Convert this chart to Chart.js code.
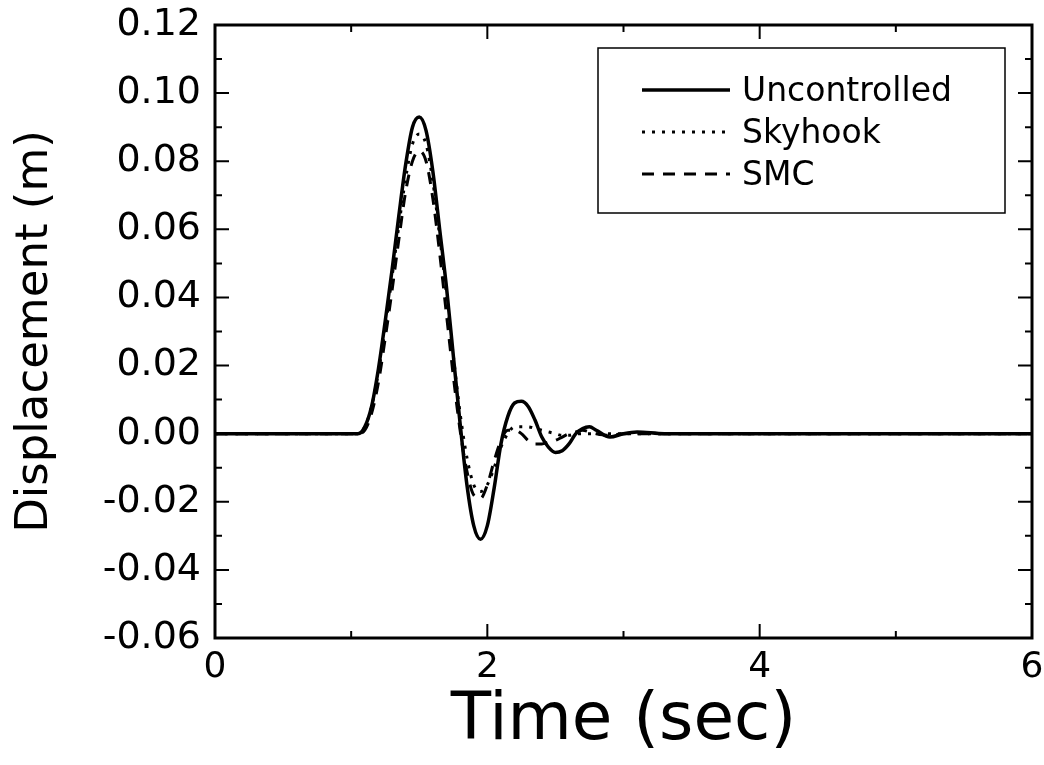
<!DOCTYPE html>
<html>
<head>
<meta charset="utf-8">
<script src="https://cdn.jsdelivr.net/npm/chart.js@4.4.1/dist/chart.umd.min.js"></script>
<style>
  html, body { margin: 0; padding: 0; background: #fff; }
  #wrap { width: 1044px; height: 765px; }
</style>
</head>
<body>
<div id="wrap"><canvas id="chart" width="1044" height="765"></canvas></div>
<script>
// time samples (sec)
const time = [0, 0.5, 1.0, 1.05, 1.1, 1.15, 1.2, 1.25, 1.3, 1.35, 1.4, 1.45, 1.5, 1.55, 1.6, 1.65, 1.7,
  1.75, 1.8, 1.85, 1.9, 1.95, 2.0, 2.05, 2.1, 2.15, 2.2, 2.25, 2.3, 2.35, 2.4, 2.45, 2.5, 2.55, 2.6,
  2.65, 2.7, 2.75, 2.8, 2.9, 3.0, 3.1, 3.3, 3.6, 4.0, 5.0, 6.0];

const uncontrolled = [0, 0, 0, 0, 0.002, 0.008, 0.019, 0.033, 0.048, 0.064, 0.079, 0.090, 0.093, 0.089, 0.077,
  0.060, 0.043, 0.023, 0.003, -0.015, -0.027, -0.031, -0.027, -0.016, -0.003, 0.005, 0.009, 0.0095, 0.008,
  0.004, -0.001, -0.004, -0.0055, -0.005, -0.003, 0.000, 0.0015, 0.002, 0.001, -0.001, 0, 0.0005, 0, 0, 0, 0, 0];

const skyhook = [0, 0, 0, 0, 0.002, 0.008, 0.018, 0.031, 0.046, 0.061, 0.075, 0.085, 0.088, 0.085, 0.074,
  0.058, 0.041, 0.023, 0.006, -0.007, -0.015, -0.017, -0.015, -0.010, -0.004, 0.000, 0.002, 0.002, 0.002,
  0.0015, 0.001, 0.0005, 0, -0.0005, -0.0005, 0, 0, 0, 0, 0, 0, 0, 0, 0, 0, 0, 0];

const smc = [0, 0, 0, 0, 0.001, 0.006, 0.015, 0.028, 0.042, 0.057, 0.071, 0.080, 0.083, 0.080, 0.069,
  0.053, 0.035, 0.017, 0.001, -0.011, -0.018, -0.019, -0.015, -0.008, -0.002, 0.001, 0.001, 0, -0.002,
  -0.003, -0.003, -0.0025, -0.002, -0.001, 0, 0.0005, 0.001, 0.0005, 0, -0.0005, 0, 0, 0, 0, 0, 0, 0];

const seriesNames = ['Uncontrolled', 'Skyhook', 'SMC'];
const xTicks = [0, 2, 4, 6];
const yTicks = [-0.06, -0.04, -0.02, 0.00, 0.02, 0.04, 0.06, 0.08, 0.10, 0.12];

const FONT = 'DejaVu Sans, sans-serif';

function toPoints(ys) {
  return time.map((t, i) => ({ x: t, y: ys[i] }));
}

// inward ticks on all four sides plus the frame
const frameTicks = {
  id: 'frameTicks',
  afterDatasetsDraw(chart) {
    const { ctx, chartArea: a, scales } = chart;
    ctx.save();
    ctx.strokeStyle = '#000';
    ctx.lineWidth = 3;
    ctx.strokeRect(a.left, a.top, a.right - a.left, a.bottom - a.top);
    ctx.lineWidth = 2;
    for (let v = 0; v <= 6; v += 1) {
      const px = scales.x.getPixelForValue(v);
      const len = v % 2 === 0 ? 14 : 7;
      ctx.beginPath();
      ctx.moveTo(px, a.bottom); ctx.lineTo(px, a.bottom - len);
      ctx.moveTo(px, a.top); ctx.lineTo(px, a.top + len);
      ctx.stroke();
    }
    for (let k = -6; k <= 12; k += 1) {
      const py = scales.y.getPixelForValue(k / 100);
      const len = k % 2 === 0 ? 14 : 7;
      ctx.beginPath();
      ctx.moveTo(a.left, py); ctx.lineTo(a.left + len, py);
      ctx.moveTo(a.right, py); ctx.lineTo(a.right - len, py);
      ctx.stroke();
    }
    ctx.restore();
  }
};

// boxed legend in the top right of the plot
const boxLegend = {
  id: 'boxLegend',
  afterDraw(chart) {
    const { ctx } = chart;
    const left = 598, top = 48, w = 407, h = 165;
    ctx.save();
    ctx.strokeStyle = '#000';
    ctx.lineWidth = 1.5;
    ctx.strokeRect(left, top, w, h);
    ctx.font = '33px ' + FONT;
    ctx.textBaseline = 'middle';
    ctx.fillStyle = '#000';
    chart.data.datasets.forEach((ds, i) => {
      const y = 90 + i * 42;
      ctx.beginPath();
      ctx.lineWidth = ds.borderWidth;
      ctx.setLineDash(ds.borderDash || []);
      ctx.moveTo(642, y); ctx.lineTo(730, y);
      ctx.stroke();
      ctx.setLineDash([]);
      ctx.fillText(ds.label, 742, y + 2);
    });
    ctx.restore();
  }
};

new Chart(document.getElementById('chart'), {
  type: 'line',
  data: {
    datasets: [
      { label: seriesNames[0], data: toPoints(uncontrolled), borderColor: '#000', borderWidth: 3.5 },
      { label: seriesNames[1], data: toPoints(skyhook), borderColor: '#000', borderWidth: 3, borderDash: [3, 7] },
      { label: seriesNames[2], data: toPoints(smc), borderColor: '#000', borderWidth: 3, borderDash: [12, 9] }
    ]
  },
  options: {
    responsive: false,
    animation: false,
    layout: { padding: { top: 25, right: 12, left: 0, bottom: 0 } },
    elements: { point: { radius: 0 }, line: { tension: 0.4, cubicInterpolationMode: 'monotone' } },
    plugins: { legend: { display: false }, tooltip: { enabled: false } },
    scales: {
      x: {
        type: 'linear', min: 0, max: 6,
        afterBuildTicks(s) { s.ticks = xTicks.map(v => ({ value: v })); },
        afterFit(s) { s.height = 127; s.paddingLeft = 0; s.paddingRight = 0; },
        grid: { display: false, drawTicks: false },
        border: { display: false },
        ticks: { color: '#000', font: { family: FONT, size: 36 }, padding: 8, maxRotation: 0 },
        title: { display: true, text: 'Time (sec)', color: '#000', font: { family: FONT, size: 66 }, padding: { top: 0, bottom: 4 } }
      },
      y: {
        type: 'linear', min: -0.06, max: 0.12,
        afterBuildTicks(s) { s.ticks = yTicks.map(v => ({ value: v })); },
        afterFit(s) { s.width = 215; s.paddingTop = 0; s.paddingBottom = 0; },
        grid: { display: false, drawTicks: false },
        border: { display: false },
        ticks: { color: '#000', font: { family: FONT, size: 38 }, padding: 14, callback: v => v.toFixed(2) },
        title: { display: true, text: 'Displacement (m)', color: '#000', font: { family: FONT, size: 45 }, padding: { top: 8, bottom: 0 } }
      }
    }
  },
  plugins: [frameTicks, boxLegend]
});
</script>
</body>
</html>
